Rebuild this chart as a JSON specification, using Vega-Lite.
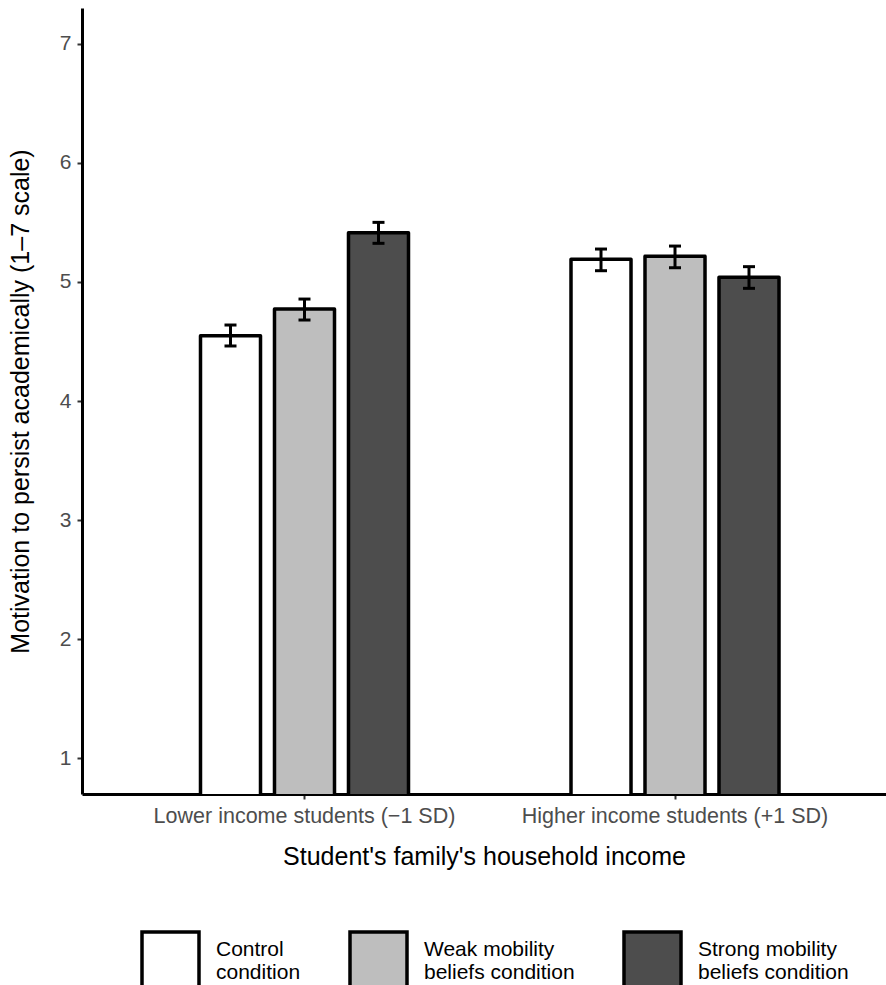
{
  "$schema": "https://vega.github.io/schema/vega-lite/v6.json",
  "autosize": "none",
  "width": 804,
  "height": 786,
  "padding": {"left": 82, "top": 8, "right": 0, "bottom": 191},
  "background": "white",
  "config": {
    "view": {"stroke": null},
    "font": "Liberation Sans",
    "axis": {"labelFont": "Liberation Sans", "titleFont": "Liberation Sans"},
    "legend": {"labelFont": "Liberation Sans"}
  },
  "data": {
    "values": [
      {"income": "Lower income students (−1 SD)", "condition": "Control condition", "mean": 4.548, "lo": 4.462, "hi": 4.638},
      {"income": "Lower income students (−1 SD)", "condition": "Weak mobility beliefs condition", "mean": 4.772, "lo": 4.680, "hi": 4.856},
      {"income": "Lower income students (−1 SD)", "condition": "Strong mobility beliefs condition", "mean": 5.413, "lo": 5.324, "hi": 5.500},
      {"income": "Higher income students (+1 SD)", "condition": "Control condition", "mean": 5.190, "lo": 5.094, "hi": 5.276},
      {"income": "Higher income students (+1 SD)", "condition": "Weak mobility beliefs condition", "mean": 5.215, "lo": 5.119, "hi": 5.301},
      {"income": "Higher income students (+1 SD)", "condition": "Strong mobility beliefs condition", "mean": 5.039, "lo": 4.946, "hi": 5.128}
    ]
  },
  "encoding": {
    "x": {
      "field": "income",
      "type": "nominal",
      "sort": ["Lower income students (−1 SD)", "Higher income students (+1 SD)"],
      "scale": {"paddingInner": 0.4386, "paddingOuter": 0.3043, "align": 0.5255},
      "axis": {
        "title": "Student's family's household income",
        "labelAngle": 0,
        "labelFontSize": 21.5,
        "labelColor": "#4d4d4d",
        "labelPadding": 6,
        "labelLimit": 0,
        "tickSize": 5,
        "tickColor": "#333333",
        "tickWidth": 2,
        "domainColor": "black",
        "domainWidth": 3,
        "titleFontSize": 25,
        "titleFontWeight": "normal",
        "titleColor": "black",
        "titlePadding": 18
      }
    },
    "xOffset": {
      "field": "condition",
      "type": "nominal",
      "sort": ["Control condition", "Weak mobility beliefs condition", "Strong mobility beliefs condition"],
      "scale": {"paddingInner": 0.189, "paddingOuter": 0}
    }
  },
  "layer": [
    {
      "mark": {"type": "bar", "stroke": "black", "strokeWidth": 3.5, "strokeJoin": "round", "clip": true},
      "encoding": {
        "y": {
          "field": "mean",
          "type": "quantitative",
          "scale": {"domain": [0.7, 7.3], "zero": false, "nice": false},
          "axis": {
            "title": "Motivation to persist academically (1–7 scale)",
            "values": [1, 2, 3, 4, 5, 6, 7],
            "format": "d",
            "grid": false,
            "labelFontSize": 21,
            "labelColor": "#4d4d4d",
            "labelPadding": 6,
            "tickSize": 5,
            "tickColor": "#333333",
            "tickWidth": 2,
            "domainColor": "black",
            "domainWidth": 3,
            "titleFontSize": 25,
            "titleFontWeight": "normal",
            "titleColor": "black",
            "titlePadding": 26
          }
        },
        "fill": {
          "field": "condition",
          "type": "nominal",
          "sort": ["Control condition", "Weak mobility beliefs condition", "Strong mobility beliefs condition"],
          "scale": {
            "domain": ["Control condition", "Weak mobility beliefs condition", "Strong mobility beliefs condition"],
            "range": ["#ffffff", "#bebebe", "#4d4d4d"]
          },
          "legend": {
            "title": null,
            "orient": "none",
            "direction": "horizontal",
            "legendX": 58,
            "legendY": 922,
            "symbolType": "square",
            "symbolSize": 3249,
            "symbolStrokeColor": "black",
            "symbolStrokeWidth": 3.5,
            "symbolOpacity": 1,
            "labelFontSize": 21,
            "labelColor": "black",
            "labelOffset": 15,
            "labelLineHeight": 22,
            "labelLimit": 300,
            "labelBaseline": "middle",
            "columnPadding": 42,
            "labelExpr": "datum.label == 'Control condition' ? ['Control', 'condition'] : [slice(datum.label, 0, indexof(datum.label, ' beliefs')), 'beliefs condition']",
            "encode": {"labels": {"update": {"dy": {"value": -11}}}}
          }
        }
      }
    },
    {
      "mark": {"type": "rule", "stroke": "black", "strokeWidth": 3},
      "encoding": {
        "y": {"field": "lo", "type": "quantitative"},
        "y2": {"field": "hi"}
      }
    },
    {
      "mark": {"type": "tick", "color": "black", "thickness": 3, "size": 12, "opacity": 1},
      "encoding": {
        "y": {"field": "lo", "type": "quantitative"}
      }
    },
    {
      "mark": {"type": "tick", "color": "black", "thickness": 3, "size": 12, "opacity": 1},
      "encoding": {
        "y": {"field": "hi", "type": "quantitative"}
      }
    }
  ]
}
